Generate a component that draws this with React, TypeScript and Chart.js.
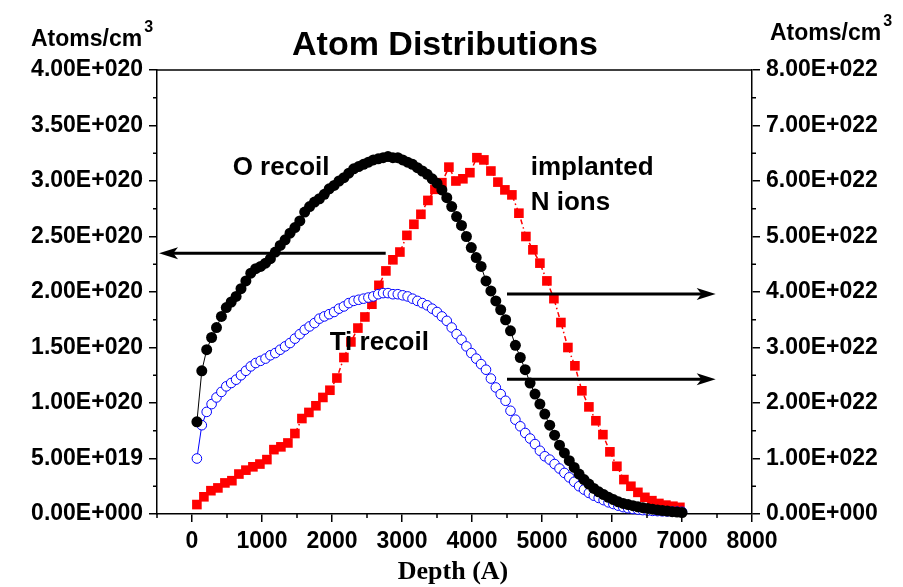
import React, { useEffect, useRef } from 'react';
import { Chart, registerables } from 'chart.js';

Chart.register(...registerables);

// Depth (Angstrom) of the O and Ti recoil points
const depthA = [
  70, 140, 210, 280, 350, 420, 490, 560, 630, 700,
  770, 840, 910, 980, 1050, 1120, 1190, 1260, 1330, 1400,
  1470, 1540, 1610, 1680, 1750, 1820, 1890, 1960, 2030, 2100,
  2170, 2240, 2310, 2380, 2450, 2520, 2590, 2660, 2730, 2800,
  2870, 2940, 3010, 3080, 3150, 3220, 3290, 3360, 3430, 3500,
  3570, 3640, 3710, 3780, 3850, 3920, 3990, 4060, 4130, 4200,
  4270, 4340, 4410, 4480, 4550, 4620, 4690, 4760, 4830, 4900,
  4970, 5040, 5110, 5180, 5250, 5320, 5390, 5460, 5530, 5600,
  5670, 5740, 5810, 5880, 5950, 6020, 6090, 6160, 6230, 6300,
  6370, 6440, 6510, 6580, 6650, 6720, 6790, 6860, 6930, 7000,
];

// O recoil, units of 1E+20 atoms/cm3 (left axis)
const oRecoilE20 = [
  0.83, 1.29, 1.48, 1.59, 1.68, 1.78, 1.86, 1.91, 1.96, 2.03,
  2.10, 2.17, 2.21, 2.23, 2.26, 2.30, 2.36, 2.42, 2.47, 2.53,
  2.58, 2.64, 2.72, 2.77, 2.81, 2.84, 2.88, 2.93, 2.96, 3.00,
  3.03, 3.07, 3.11, 3.13, 3.15, 3.17, 3.19, 3.20, 3.21, 3.22,
  3.21, 3.21, 3.19, 3.17, 3.15, 3.12, 3.09, 3.06, 3.02, 2.98,
  2.92, 2.85, 2.77, 2.68, 2.60, 2.50, 2.40, 2.31, 2.23, 2.10,
  2.01, 1.92, 1.84, 1.75, 1.65, 1.52, 1.41, 1.30, 1.18, 1.08,
  0.99, 0.90, 0.80, 0.71, 0.62, 0.55, 0.48, 0.42, 0.36, 0.31,
  0.27, 0.23, 0.20, 0.175, 0.15, 0.13, 0.11, 0.095, 0.085, 0.075,
  0.065, 0.057, 0.05, 0.043, 0.037, 0.031, 0.026, 0.021, 0.017, 0.013,
];

// Ti recoil, units of 1E+20 atoms/cm3 (left axis)
const tiRecoilE20 = [
  0.50, 0.80, 0.92, 0.99, 1.05, 1.10, 1.15, 1.18, 1.21, 1.25,
  1.29, 1.33, 1.36, 1.38, 1.40, 1.43, 1.45, 1.48, 1.51, 1.54,
  1.58, 1.62, 1.66, 1.69, 1.72, 1.76, 1.78, 1.80, 1.82, 1.85,
  1.87, 1.90, 1.92, 1.93, 1.94, 1.95, 1.96, 1.98, 1.99, 1.99,
  1.98, 1.98, 1.97, 1.96, 1.94, 1.92, 1.90, 1.88, 1.85, 1.82,
  1.78, 1.74, 1.68, 1.62, 1.57, 1.51, 1.45, 1.40, 1.35, 1.30,
  1.22, 1.14, 1.08, 1.02, 0.93, 0.85, 0.79, 0.73, 0.68, 0.63,
  0.57, 0.52, 0.49, 0.45, 0.41, 0.37, 0.33, 0.29, 0.25, 0.22,
  0.19, 0.165, 0.145, 0.125, 0.105, 0.09, 0.075, 0.062, 0.052, 0.045,
  0.04, 0.035, 0.031, 0.028, 0.026, 0.024, 0.023, 0.022, 0.021, 0.02,
];

// Depth (Angstrom) of the implanted N points
const nDepthA = [
  70, 170, 270, 370, 470, 570, 670, 770, 870, 970,
  1070, 1170, 1270, 1370, 1470, 1570, 1670, 1770, 1870, 1970,
  2070, 2170, 2270, 2370, 2470, 2570, 2670, 2770, 2870, 2970,
  3070, 3170, 3270, 3370, 3470, 3570, 3670, 3770, 3870, 3970,
  4070, 4170, 4270, 4370, 4470, 4570, 4670, 4770, 4870, 4970,
  5070, 5170, 5270, 5370, 5470, 5570, 5670, 5770, 5870, 5970,
  6070, 6170, 6270, 6370, 6470, 6570, 6670, 6770, 6870, 6970,
];

// Implanted N ions, units of 1E+22 atoms/cm3 (right axis)
const nImplantE22 = [
  0.17, 0.31, 0.42, 0.47, 0.56, 0.60, 0.72, 0.79, 0.85, 0.90,
  0.98, 1.16, 1.21, 1.28, 1.45, 1.72, 1.83, 1.95, 2.10, 2.23,
  2.45, 2.82, 3.10, 3.35, 3.55, 3.78, 4.12, 4.38, 4.58, 4.72,
  5.02, 5.22, 5.40, 5.65, 5.85, 5.97, 6.25, 6.00, 6.04, 6.15,
  6.42, 6.38, 6.18, 5.98, 5.84, 5.75, 5.42, 5.00, 4.76, 4.52,
  4.20, 3.88, 3.45, 3.00, 2.67, 2.22, 1.93, 1.68, 1.43, 1.12,
  0.86, 0.62, 0.50, 0.39, 0.30, 0.24, 0.19, 0.16, 0.14, 0.12,
];

const xTicks = [0, 1000, 2000, 3000, 4000, 5000, 6000, 7000, 8000];
const xMinorTicks = [-500, 500, 1500, 2500, 3500, 4500, 5500, 6500, 7500];
const yLeftTicksE20 = [0, 0.5, 1, 1.5, 2, 2.5, 3, 3.5, 4];
const yLeftMinorE20 = [0.25, 0.75, 1.25, 1.75, 2.25, 2.75, 3.25, 3.75];
const yRightTicksE22 = [0, 1, 2, 3, 4, 5, 6, 7, 8];
const yRightMinorE22 = [0.5, 1.5, 2.5, 3.5, 4.5, 5.5, 6.5, 7.5];

const titleText = 'Atom Distributions';
const unitText = 'Atoms/cm';
const unitSup = '3';
const xTitleText = 'Depth (A)';

// Annotations in data coordinates (depth, left-axis value in 1E+20)
const labelTexts = ['O recoil', 'implanted', 'N ions', 'Ti recoil'];
const labelDepths = [581, 4839, 4839, 1967];
const labelValuesE20 = [3.054, 3.054, 2.739, 1.477];

// Arrows: left one points to the left axis (1E+20), right ones to the right axis (1E+22)
const arrowFromDepth = [2767, 4500, 4500];
const arrowToDepth = [-471, 7481, 7481];
const arrowAxis = ['y', 'y2', 'y2'];
const arrowValues = [2.349e20, 3.964e22, 2.427e22];

const SANS = '"Liberation Sans", Arial, Helvetica, sans-serif';
const SERIF = '"Liberation Serif", "Times New Roman", Times, serif';

function sci(v: number): string {
  if (Math.abs(v) < 1e-30) return '0.00E+000';
  const e = Math.floor(Math.log10(Math.abs(v)) + 1e-9);
  const m = v / Math.pow(10, e);
  return m.toFixed(2) + 'E' + (e >= 0 ? '+' : '-') + String(Math.abs(e)).padStart(3, '0');
}

const overlayPlugin = {
  id: 'overlay',
  afterDraw(chart: any) {
    const { ctx, chartArea: a, scales } = chart;
    const sx = scales.x;
    const sy = scales.y;
    const sy2 = scales.y2;
    ctx.save();
    ctx.strokeStyle = '#000';
    ctx.lineWidth = 1.5;
    // top frame line
    ctx.beginPath();
    ctx.moveTo(a.left, a.top);
    ctx.lineTo(a.right, a.top);
    ctx.stroke();
    // minor ticks
    ctx.beginPath();
    xMinorTicks.forEach((v) => {
      const px = sx.getPixelForValue(v);
      ctx.moveTo(px, a.bottom);
      ctx.lineTo(px, a.bottom + 4);
    });
    yLeftMinorE20.forEach((v) => {
      const py = sy.getPixelForValue(v * 1e20);
      ctx.moveTo(a.left, py);
      ctx.lineTo(a.left - 4, py);
    });
    yRightMinorE22.forEach((v) => {
      const py = sy2.getPixelForValue(v * 1e22);
      ctx.moveTo(a.right, py);
      ctx.lineTo(a.right + 4, py);
    });
    ctx.stroke();

    // arrows
    ctx.fillStyle = '#000';
    for (let i = 0; i < arrowFromDepth.length; i++) {
      const scale = arrowAxis[i] === 'y' ? sy : sy2;
      const py = scale.getPixelForValue(arrowValues[i]);
      const x1 = sx.getPixelForValue(arrowFromDepth[i]);
      const x2 = sx.getPixelForValue(arrowToDepth[i]);
      const dir = x2 > x1 ? 1 : -1;
      const headLen = 19;
      ctx.lineWidth = 3;
      ctx.beginPath();
      ctx.moveTo(x1, py);
      ctx.lineTo(x2 - dir * headLen * 0.6, py);
      ctx.stroke();
      ctx.beginPath();
      ctx.moveTo(x2, py);
      ctx.lineTo(x2 - dir * headLen, py - 6);
      ctx.lineTo(x2 - dir * headLen * 0.75, py);
      ctx.lineTo(x2 - dir * headLen, py + 6);
      ctx.closePath();
      ctx.fill();
    }

    // annotation labels
    ctx.fillStyle = '#000';
    ctx.font = 'bold 26px ' + SANS;
    ctx.textAlign = 'left';
    ctx.textBaseline = 'alphabetic';
    for (let i = 0; i < labelTexts.length; i++) {
      ctx.fillText(labelTexts[i], sx.getPixelForValue(labelDepths[i]), sy.getPixelForValue(labelValuesE20[i] * 1e20));
    }

    // chart title
    ctx.font = 'bold 34px ' + SANS;
    ctx.textAlign = 'center';
    ctx.fillText(titleText, 445, 55);

    // units
    ctx.textAlign = 'left';
    ctx.font = 'bold 23px ' + SANS;
    const uw = ctx.measureText(unitText).width;
    ctx.fillText(unitText, 31, 46);
    ctx.fillText(unitText, 770, 40);
    ctx.font = 'bold 16px ' + SANS;
    ctx.fillText(unitSup, 31 + uw + 2, 32);
    ctx.fillText(unitSup, 770 + uw + 2, 26);

    // x axis title
    ctx.font = 'bold 26px ' + SERIF;
    ctx.textAlign = 'center';
    ctx.fillText(xTitleText, 453, 579);
    ctx.restore();
  },
};

export default function App() {
  const canvasRef = useRef<HTMLCanvasElement | null>(null);

  useEffect(() => {
    if (!canvasRef.current) return;
    const tickFont = { family: SANS, size: 23, weight: 'bold' as const };
    const chart = new Chart(canvasRef.current, {
      type: 'line',
      data: {
        datasets: [
          {
            label: 'O recoil',
            data: depthA.map((d, i) => ({ x: d, y: oRecoilE20[i] * 1e20 })),
            yAxisID: 'y',
            borderColor: '#000000',
            borderWidth: 1,
            pointRadius: 5.5,
            pointBackgroundColor: '#000000',
            pointBorderColor: '#000000',
            pointBorderWidth: 0,
            order: 0,
            clip: false,
          },
          {
            label: 'Ti recoil',
            data: depthA.map((d, i) => ({ x: d, y: tiRecoilE20[i] * 1e20 })),
            yAxisID: 'y',
            borderColor: '#0000ff',
            borderWidth: 1,
            pointRadius: 4.8,
            pointBackgroundColor: '#ffffff',
            pointBorderColor: '#0000ff',
            pointBorderWidth: 1,
            order: 1,
            clip: false,
          },
          {
            label: 'implanted N ions',
            data: nDepthA.map((d, i) => ({ x: d, y: nImplantE22[i] * 1e22 })),
            yAxisID: 'y2',
            borderColor: '#ff0000',
            borderWidth: 1.5,
            borderDash: [5, 3, 1.5, 3],
            pointStyle: 'rect',
            pointRadius: 6.8,
            pointBackgroundColor: '#ff0000',
            pointBorderColor: '#ff0000',
            pointBorderWidth: 0,
            order: 2,
            clip: false,
          },
        ],
      },
      options: {
        responsive: false,
        animation: false,
        layout: { padding: { top: 70, left: 0, right: 0, bottom: 0 } },
        plugins: {
          legend: { display: false },
          tooltip: { enabled: false },
          title: { display: false },
        },
        scales: {
          x: {
            type: 'linear',
            position: 'bottom',
            min: -500,
            max: 8000,
            afterBuildTicks: (s: any) => {
              s.ticks = xTicks.map((v) => ({ value: v }));
            },
            afterFit: (s: any) => {
              s.height = 73;
            },
            grid: { drawOnChartArea: false, drawTicks: true, tickLength: 8, color: '#000', lineWidth: 1.5 },
            border: { display: true, color: '#000', width: 1.5 },
            ticks: {
              color: '#000',
              font: tickFont,
              padding: 6,
              maxRotation: 0,
              autoSkip: false,
              callback: (v: any) => String(v),
            },
          },
          y: {
            type: 'linear',
            position: 'left',
            min: 0,
            max: 4e20,
            afterBuildTicks: (s: any) => {
              s.ticks = yLeftTicksE20.map((v) => ({ value: v * 1e20 }));
            },
            afterFit: (s: any) => {
              s.width = 157;
            },
            grid: { drawOnChartArea: false, drawTicks: true, tickLength: 8, color: '#000', lineWidth: 1.5 },
            border: { display: true, color: '#000', width: 1.5 },
            ticks: {
              color: '#000',
              font: tickFont,
              padding: 6,
              autoSkip: false,
              callback: (v: any) => sci(Number(v)),
            },
          },
          y2: {
            type: 'linear',
            position: 'right',
            min: 0,
            max: 8e22,
            afterBuildTicks: (s: any) => {
              s.ticks = yRightTicksE22.map((v) => ({ value: v * 1e22 }));
            },
            afterFit: (s: any) => {
              s.width = 151;
            },
            grid: { drawOnChartArea: false, drawTicks: true, tickLength: 8, color: '#000', lineWidth: 1.5 },
            border: { display: true, color: '#000', width: 1.5 },
            ticks: {
              color: '#000',
              font: tickFont,
              padding: 6,
              autoSkip: false,
              callback: (v: any) => sci(Number(v)),
            },
          },
        },
      },
      plugins: [overlayPlugin],
    } as any);
    return () => {
      chart.destroy();
    };
  }, []);

  return (
    <div style={{ position: 'absolute', left: 0, top: 0, width: 903, height: 587, background: '#fff' }}>
      <canvas ref={canvasRef} width={903} height={587} style={{ display: 'block' }} />
    </div>
  );
}
